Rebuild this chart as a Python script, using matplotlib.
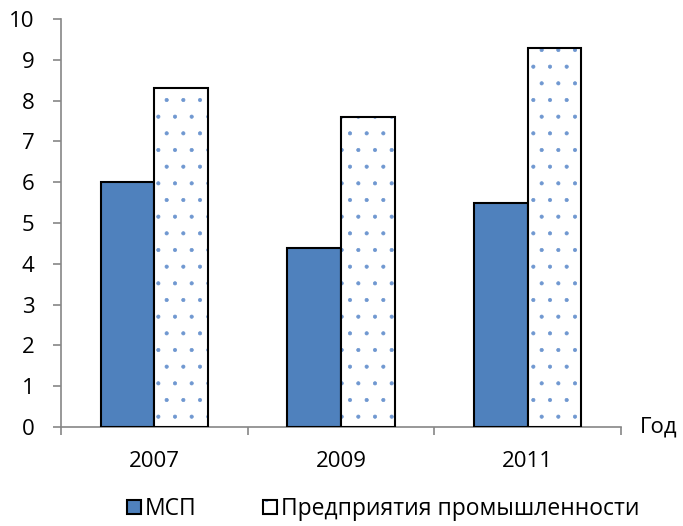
import numpy as np
import matplotlib.pyplot as plt

plt.rcParams['font.family'] = ['Open Sans', 'DejaVu Sans']
plt.rcParams['hatch.linewidth'] = 0.5

# --- Data ---
years = ['2007', '2009', '2011']
msp = [6.0, 4.4, 5.5]
industry = [8.3, 7.6, 9.3]
yticks = list(range(0, 11))

# --- Plotting ---
fig = plt.figure(figsize=(6.83, 5.26), dpi=100)
ax = fig.add_axes([0.0893, 0.188, 0.8199, 0.776])

x = np.arange(len(years))
w = 0.287
b1 = ax.bar(x - w / 2, msp, width=w, color='#4F81BD', edgecolor='black',
            linewidth=1.5, zorder=3)
# dotted fill (hatch takes the edge colour), then a black outline on top
b2 = ax.bar(x + w / 2, industry, width=w, color='white', edgecolor='#6F97D0',
            linewidth=0, hatch='.', zorder=3)
b3 = ax.bar(x + w / 2, industry, width=w, fill=False, edgecolor='black',
            linewidth=1.5, zorder=4)

ax.set_xlim(-0.5, len(years) - 0.5)
ax.set_ylim(0, 10)
ax.set_yticks(yticks)

# category ticks sit on the boundaries, labels in the middle
ax.set_xticks(np.arange(len(years) + 1) - 0.5)
ax.set_xticklabels([])
ax.set_xticks(x, minor=True)
ax.set_xticklabels(years, minor=True)
ax.tick_params(axis='x', which='minor', length=0, pad=17, labelsize=16)
ax.tick_params(axis='x', which='major', length=6, width=1.2, color='#868686')
ax.tick_params(axis='y', length=6, width=1.2, color='#868686', labelsize=16, pad=13)

for s in ['top', 'right']:
    ax.spines[s].set_visible(False)
for s in ['left', 'bottom']:
    ax.spines[s].set_color('#868686')
    ax.spines[s].set_linewidth(1.2)

ax.text(1.034, 0.0, 'Год', transform=ax.transAxes, fontsize=16,
        ha='left', va='center')

fig.legend([b1[0], (b2[0], b3[0])], ['МСП', 'Предприятия промышленности'],
           loc='center', bbox_to_anchor=(0.5615, 0.032), ncol=2, frameon=False,
           fontsize=16.5, handlelength=0.6, handleheight=0.6,
           handletextpad=0.18, columnspacing=2.9, borderpad=0, borderaxespad=0)

fig.savefig('out.png', dpi=100)
